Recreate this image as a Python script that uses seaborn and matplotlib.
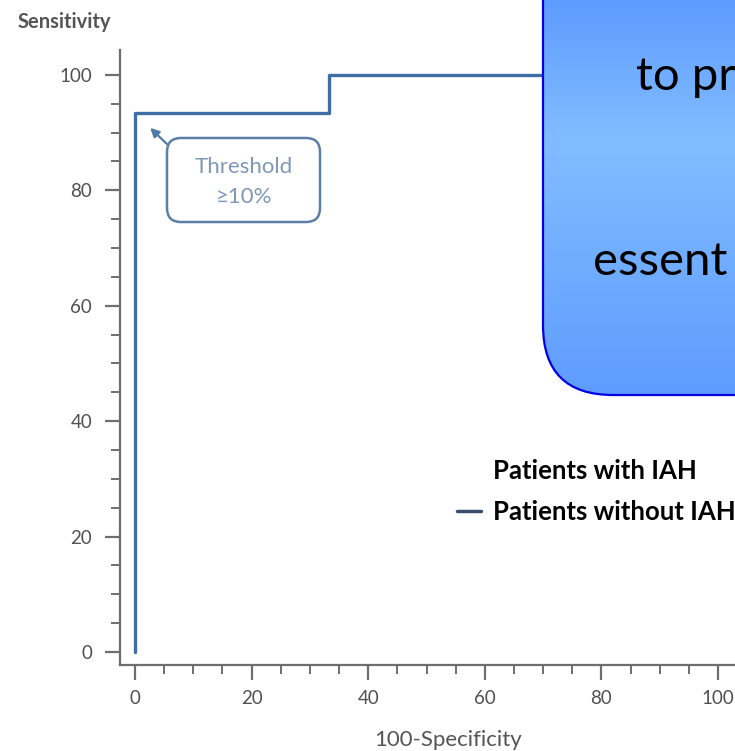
import numpy as np
import pandas as pd
import matplotlib
matplotlib.use("Agg")
import matplotlib.pyplot as plt
import seaborn as sns
from matplotlib.patches import FancyBboxPatch
from matplotlib.lines import Line2D
from matplotlib.colors import LinearSegmentedColormap
from matplotlib.ticker import MultipleLocator

# ROC curve as step points (percent)
fpr = [0, 0, 0, 33.3, 33.3, 100]
tpr = [0, 0, 93.3, 93.3, 100, 100]
x_ticks = [0, 20, 40, 60, 80, 100]
y_ticks = [0, 20, 40, 60, 80, 100]
legend_labels = ["Patients with IAH", "Patients without IAH"]
threshold_label = ["Threshold", "≥10%"]
threshold_point = (2.6, 90.8)
callout_lines = ["to pr", "essent"]

sns.set_theme(style="white")
plt.rcParams["font.family"] = ["Lato", "DejaVu Sans"]

W, H = 735, 751
fig = plt.figure(figsize=(W / 100, H / 100), dpi=100)
fig.patch.set_facecolor("white")

# axes frame in pixel units
px_left, px_right, px_top, px_bottom = 120, 735, 50, 665
ax = fig.add_axes([px_left / W, 1 - px_bottom / H,
                   (px_right - px_left) / W, (px_bottom - px_top) / H])
ax.set_facecolor("white")

roc = pd.DataFrame({"fpr": fpr, "tpr": tpr})
sns.lineplot(data=roc, x="fpr", y="tpr", sort=False, estimator=None,
             color="#3F6DA6", lw=2.4, ax=ax, zorder=3)

ax.set_xlim(-2.57, 102.9)
ax.set_ylim(-2.25, 104.3)
ax.set_xticks(x_ticks)
ax.set_yticks(y_ticks)
ax.xaxis.set_minor_locator(MultipleLocator(5))
ax.yaxis.set_minor_locator(MultipleLocator(5))
ax.set_xlabel("")
ax.set_ylabel("")

axis_grey = "#6e6e6e"
for side in ["top", "right"]:
    ax.spines[side].set_visible(False)
for side in ["left", "bottom"]:
    ax.spines[side].set_color(axis_grey)
    ax.spines[side].set_linewidth(1.6)
ax.tick_params(which="both", bottom=True, left=True, top=False, right=False)
ax.tick_params(which="major", direction="out", length=11, width=1.6,
               color=axis_grey, labelsize=13.5, labelcolor="#505050")
ax.tick_params(which="minor", direction="out", length=6.5, width=1.4,
               color=axis_grey)
ax.tick_params(axis="y", which="major", pad=9)
ax.tick_params(axis="x", which="major", pad=7)

fig.text(18 / W, 1 - 22 / H, "Sensitivity", ha="left", va="center",
         fontsize=14.5, color="#555555", fontweight="bold")
fig.text(448 / W, 1 - 740 / H, "100-Specificity", ha="center", va="center",
         fontsize=16, color="#555555")

# legend
handles = [Line2D([], [], color="none"),
           Line2D([], [], color="#3B4D6E", lw=2.5)]
ax.legend(handles=handles, labels=legend_labels, loc="upper left",
          bbox_to_anchor=(457 / W, 1 - 459 / H), bbox_transform=fig.transFigure,
          frameon=False, prop={"weight": "bold", "size": 18.5},
          handlelength=0.93, handletextpad=0.47, labelspacing=0.68,
          borderpad=0, borderaxespad=0, labelcolor="black")

# overlay in pixel coordinates
ov = fig.add_axes([0, 0, 1, 1])
ov.set_zorder(5)
ov.patch.set_visible(False)
ov.axis("off")

# threshold callout
tbox = FancyBboxPatch((167, 138), 153, 84,
                      boxstyle="round,pad=0,rounding_size=14",
                      fc="white", ec="#5B7FA8", lw=1.8)
ov.add_patch(tbox)
ov.text(244, 167, threshold_label[0], ha="center", va="center",
        fontsize=16, color="#7F98B8")
ov.text(244, 197, threshold_label[1], ha="center", va="center",
        fontsize=16, color="#7F98B8")
ax.annotate("", xy=threshold_point, xycoords="data",
            xytext=(169, 146), textcoords=ov.transData,
            arrowprops=dict(arrowstyle="-|>", color="#4F79A8", lw=1.6,
                            shrinkA=0, shrinkB=0, mutation_scale=13),
            zorder=6)

# blue rounded callout with vertical gradient
cbox = FancyBboxPatch((543, -100), 320, 495,
                      boxstyle="round,pad=0,rounding_size=70",
                      fc="none", ec="#0000E6", lw=1.6, zorder=3)
ov.add_patch(cbox)
ys = np.linspace(0, 395, 300)
grad = np.interp(ys, [0, 140, 395], [0.0, 1.0, 0.0]).reshape(-1, 1)
cmap = LinearSegmentedColormap.from_list("callout", ["#5E9CFF", "#82BCFF"])
im = ov.imshow(grad, extent=[543, 863, 395, 0], cmap=cmap, aspect="auto",
               vmin=0, vmax=1, zorder=2, interpolation="bilinear")
im.set_clip_path(cbox)
ov.text(636, 77, callout_lines[0], ha="left", va="center",
        fontsize=34, color="black", zorder=4)
ov.text(593, 262, callout_lines[1], ha="left", va="center",
        fontsize=34, color="black", zorder=4)
ov.set_xlim(0, W)
ov.set_ylim(H, 0)

fig.savefig("out.png", dpi=100)
